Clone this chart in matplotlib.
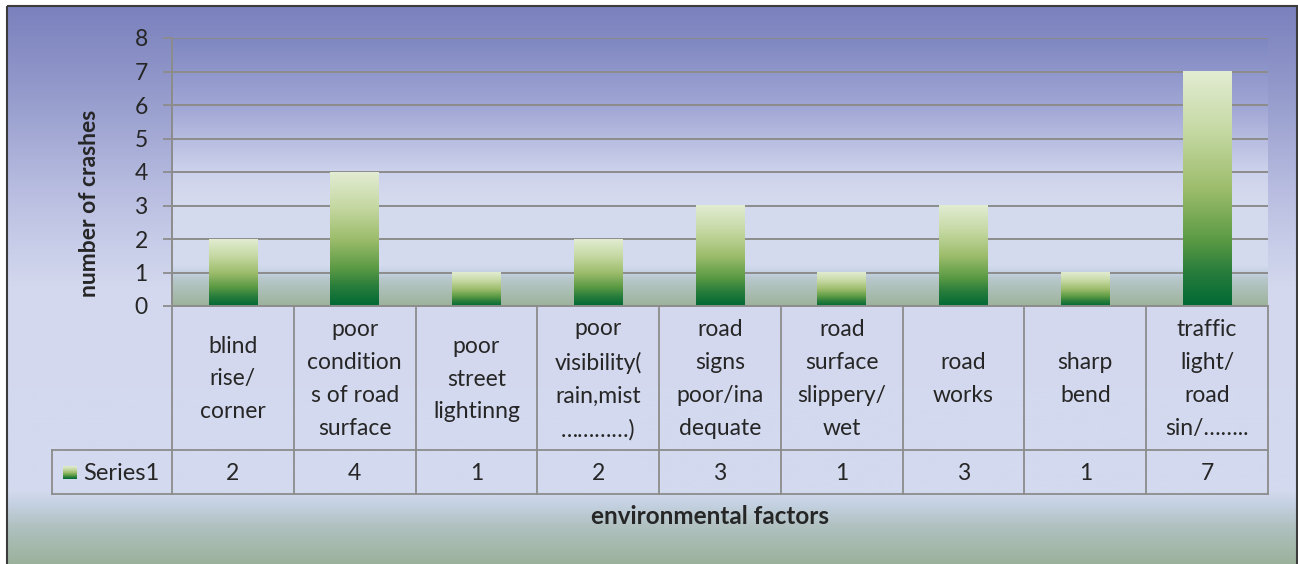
import matplotlib.pyplot as plt
import numpy as np
from matplotlib.colors import LinearSegmentedColormap
from matplotlib.patches import Rectangle

# data
categories = ['blind\nrise/\ncorner', 'poor\ncondition\ns of road\nsurface', 'poor\nstreet\nlightinng',
              'poor\nvisibility(\nrain,mist\n\u2026\u2026\u2026\u2026)', 'road\nsigns\npoor/ina\ndequate',
              'road\nsurface\nslippery/\nwet', 'road\nworks', 'sharp\nbend',
              'traffic\nlight/\nroad\nsin/\u2026\u2026..']
crashes = [2, 4, 1, 2, 3, 1, 3, 1, 7]
series_name = 'Series1'
y_ticks = [0, 1, 2, 3, 4, 5, 6, 7, 8]
x_title = 'environmental factors'
y_title = 'number of crashes'

plt.rcParams['font.family'] = ['Lato', 'DejaVu Sans']
txt = '#262626'
grid_c = '#8c8c8c'

W, H = 1298, 564
fig = plt.figure(figsize=(W / 100, H / 100), dpi=100)
fig.patch.set_facecolor('white')

# gradients (top -> bottom)
fig_cm = LinearSegmentedColormap.from_list('figbg', [
    (0.0, '#7a81bd'), (0.15, '#949acb'), (0.35, '#bcc1e3'), (0.5, '#d3d8ee'),
    (0.867, '#d3daee'), (0.894, '#c3d0e0'), (0.93, '#b0c1c0'), (1.0, '#9bb19a')])
plot_cm = LinearSegmentedColormap.from_list('plotbg', [
    (0.0, '#7f87c1'), (0.25, '#a0a6d4'), (0.5, '#cdd2ec'), (0.6, '#d5daee'),
    (0.85, '#d3dbee'), (0.88, '#c3d0e2'), (0.9, '#b7c7cb'), (1.0, '#9db39b')])
bar_cm = LinearSegmentedColormap.from_list('bar', [
    (0.0, '#e2ecd2'), (0.25, '#c6d9a4'), (0.5, '#9dbd6c'), (0.72, '#5b9a44'),
    (0.85, '#2a7e3c'), (1.0, '#006934')])
grad = np.linspace(0, 1, 256).reshape(-1, 1)

# background layer in pixel coords
bg = fig.add_axes([0, 0, 1, 1])
bg.set_xlim(0, W)
bg.set_ylim(H, 0)
bg.axis('off')
bg.imshow(grad, cmap=fig_cm, aspect='auto', extent=(7, 1297, 566, 6), origin='upper', zorder=0)
bg.add_patch(Rectangle((7, 6), 1290, 560, fill=False, ec='#3c3c3c', lw=1.5, zorder=5))

# plot area
px_l, px_r, px_t, px_b = 172, 1268, 38, 306
ax = fig.add_axes([px_l / W, (H - px_b) / H, (px_r - px_l) / W, (px_b - px_t) / H])
n = len(categories)
x = np.arange(n)
ax.patch.set_visible(False)
ax.imshow(grad, cmap=plot_cm, aspect='auto', extent=(-0.5, n - 0.5, 0, 8), origin='upper', zorder=0)
ax.set_axisbelow(True)
ax.yaxis.grid(True, color=grid_c, lw=1.4)
ax.set_yticks(y_ticks)
ax.tick_params(axis='y', length=6.5, width=1.3, color=grid_c, pad=11, labelsize=16.5, labelcolor=txt)
ax.set_xticks([])
for s in ['top', 'right']:
    ax.spines[s].set_visible(False)
for s in ['left', 'bottom']:
    ax.spines[s].set_color(grid_c)
    ax.spines[s].set_linewidth(1.4)

bw = 0.4
bars = ax.bar(x, crashes, width=bw, color='none', zorder=2)
for b, v in zip(x, crashes):
    ax.imshow(grad, cmap=bar_cm, aspect='auto', extent=(b - bw / 2, b + bw / 2, 0, v),
              origin='upper', zorder=2)
ax.set_xlim(-0.5, n - 0.5)
ax.set_ylim(0, 8)

# data table under the axis
col_w = (px_r - px_l) / n
row1_b, row2_b = 450, 494
leg_l = 52
for i in range(n + 1):
    xc = px_l + i * col_w
    bg.plot([xc, xc], [px_b, row2_b], color=grid_c, lw=1.3, zorder=3)
bg.plot([leg_l, px_r], [row1_b, row1_b], color=grid_c, lw=1.3, zorder=3)
bg.plot([leg_l, px_r], [row2_b, row2_b], color=grid_c, lw=1.3, zorder=3)
bg.plot([leg_l, leg_l], [row1_b, row2_b], color=grid_c, lw=1.3, zorder=3)

for i, (c, v) in enumerate(zip(categories, crashes)):
    xc = px_l + (i + 0.5) * col_w
    bg.text(xc, (px_b + row1_b) / 2 + 1, c, ha='center', va='center', multialignment='center',
            fontsize=16.5, color=txt, linespacing=1.7, zorder=4)
    bg.text(xc, (row1_b + row2_b) / 2 + 1, str(v), ha='center', va='center',
            fontsize=16.5, color=txt, zorder=4)

bg.imshow(grad, cmap=bar_cm, aspect='auto', extent=(63, 77, 479, 466), origin='upper', zorder=4)
bg.text(83, (row1_b + row2_b) / 2 + 1, series_name, ha='left', va='center',
        fontsize=17, color=txt, zorder=4)

bg.text(710, 516, x_title, ha='center', va='center', fontsize=17.5, fontweight='bold', color=txt)
bg.text(90, 203, y_title, ha='center', va='center', rotation=90, fontsize=16.5,
        fontweight='bold', color=txt)

fig.savefig('out.png', dpi=100)
